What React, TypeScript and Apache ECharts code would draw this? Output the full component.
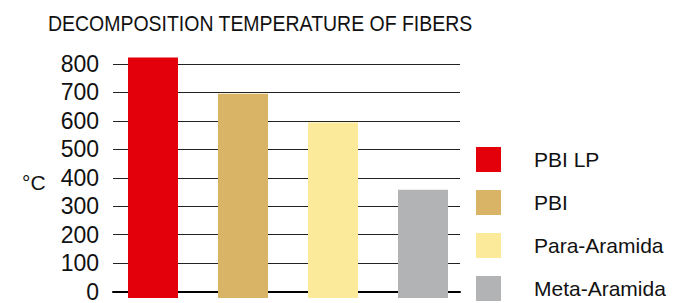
import React, { useEffect, useRef } from "react";
import * as echarts from "echarts";

const categories = ["PBI LP", "PBI", "Para-Aramida", "Meta-Aramida"];
const values = [822, 698, 600, 370];
const colors = ["#E3000B", "#D9B366", "#FBEA9A", "#B2B3B5"];
const yTicks = { min: 0, max: 800, interval: 100 };
const titleText = "DECOMPOSITION TEMPERATURE OF FIBERS";
const unitText = "°C";

const FONT = "'Liberation Sans', Arial, Helvetica, sans-serif";

export default function App() {
  const ref = useRef<HTMLDivElement>(null);
  useEffect(() => {
    if (!ref.current) return;
    const chart = echarts.init(ref.current, null, { renderer: "svg" });
    const series: any[] = categories.map((name, i) => ({
      name,
      type: "bar",
      xAxisIndex: 1,
      yAxisIndex: 1,
      stack: "all",
      barWidth: 50,
      itemStyle: { color: colors[i] },
      data: categories.map((_, j) => (j === i ? values[i] : "-")),
    }));
    chart.setOption({
      animation: false,
      legend: {
        orient: "vertical",
        left: 476,
        top: 147,
        padding: 0,
        itemWidth: 25,
        itemHeight: 25,
        itemGap: 18,
        icon: "rect",
        selectedMode: false,
        data: categories,
        textStyle: { fontFamily: FONT, fontSize: 21, color: "#111", padding: [0, 0, 0, 28] },
      },
      graphic: [
        {
          type: "text",
          x: 48,
          y: 23.5,
          scaleX: 0.885,
          style: { text: titleText, font: `22px ${FONT}`, fill: "#111", verticalAlign: "middle" },
        },
        {
          type: "text",
          x: 22,
          y: 182,
          style: { text: unitText, font: `21px ${FONT}`, fill: "#111", verticalAlign: "middle" },
        },
      ],
      grid: [
        { left: 113, width: 347, top: 64, height: 234 },
        { left: 108, width: 360, top: 34.75, height: 263.25 },
      ],
      xAxis: [
        {
          type: "category",
          gridIndex: 0,
          data: categories,
          axisLine: { show: true, lineStyle: { color: "#000", width: 2 } },
          axisTick: { show: false },
          axisLabel: { show: false },
        },
        {
          type: "category",
          gridIndex: 1,
          data: categories,
          show: false,
        },
      ],
      yAxis: [
        {
          type: "value",
          gridIndex: 0,
          min: yTicks.min,
          max: yTicks.max,
          interval: yTicks.interval,
          axisLine: { show: false },
          axisTick: { show: false },
          splitLine: { show: true, lineStyle: { color: "#222", width: 1 } },
          axisLabel: { fontFamily: FONT, fontSize: 23, color: "#111", margin: 14 },
        },
        {
          type: "value",
          gridIndex: 1,
          min: yTicks.min,
          max: yTicks.max + yTicks.interval,
          interval: yTicks.interval,
          show: false,
          splitLine: { show: false },
        },
      ],
      series,
    });
    return () => chart.dispose();
  }, []);
  return (
    <div
      ref={ref}
      style={{ position: "fixed", left: 0, top: 0, width: 674, height: 303, background: "#fff" }}
    />
  );
}
